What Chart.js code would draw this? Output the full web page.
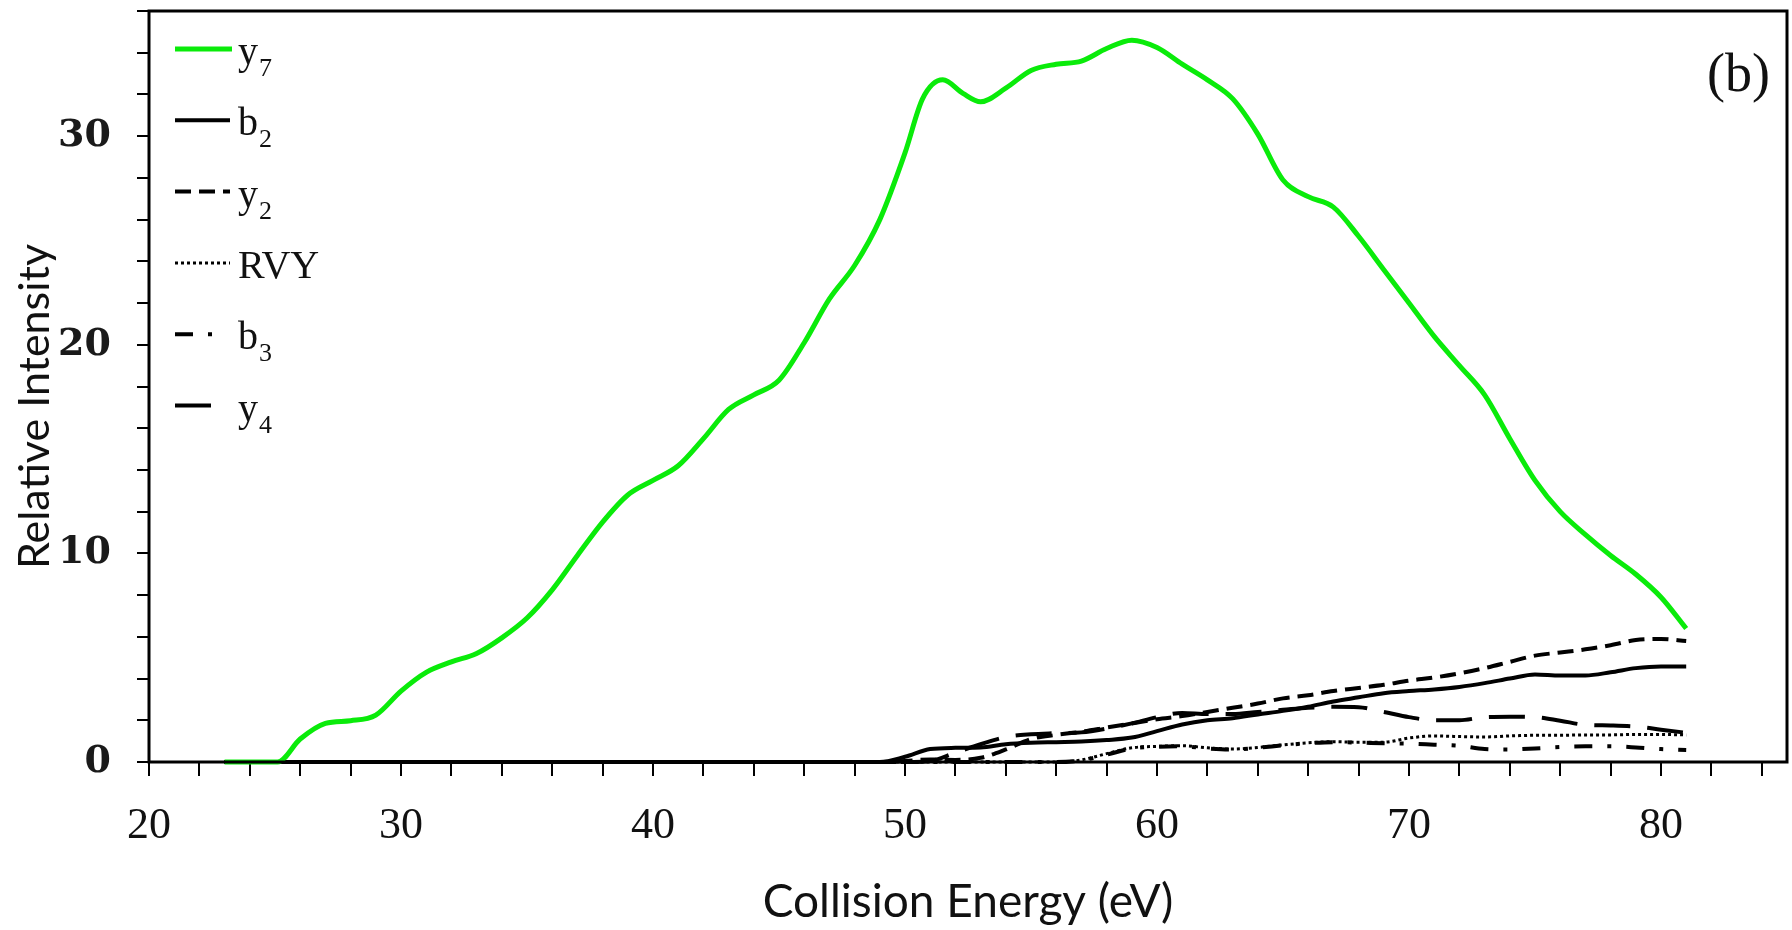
<!DOCTYPE html>
<html lang="en">
<head>
    <meta charset="UTF-8"/>
    <script src="https://cdn.jsdelivr.net/npm/chart.js@4.4.1/dist/chart.umd.min.js"></script>
    <title>collision energy</title>
    <style>
        body { margin: 0; background: #fff; }
        canvas { display: block; }
    </style>
</head>
<body>
<canvas id="ceChart" width="1792" height="930"></canvas>
<script>
    // y7 curve (finer sampling around the peak)
    const y7Energy = [23, 25.1, 26, 27, 28, 29, 30, 31, 32, 33, 34, 35, 36, 37, 38, 39, 40, 41, 42, 43, 44, 45, 46, 47, 48, 49, 50,
        50.7, 51.5, 52.3, 53, 54, 55, 56, 57, 58, 59, 60, 61, 62, 63, 64, 65, 66, 67, 68, 69, 70, 71, 72, 73, 74, 75, 76, 77, 78, 79, 80, 81];
    const y7 = [0, 0, 1.1, 1.85, 1.98, 2.25, 3.4, 4.3, 4.8, 5.2, 5.95, 6.9, 8.25, 9.9, 11.5, 12.8, 13.5, 14.2, 15.5, 16.9, 17.6, 18.3, 20.1, 22.2, 23.8, 26.0, 29.2,
        31.8, 32.7, 32.05, 31.65, 32.3, 33.15, 33.45, 33.6, 34.2, 34.6, 34.25, 33.45, 32.7, 31.8, 30.1, 27.9, 27.1, 26.6, 25.2, 23.6, 22.0, 20.4, 19.0, 17.6, 15.5, 13.5, 12.0, 10.9, 9.9, 9.0, 7.9, 6.4];

    // the small fragment ions
    const ionEnergy = [23, 47, 48, 49, 50, 51, 52, 53, 54, 55, 56, 57, 58, 59, 60, 61, 62, 63, 64, 65, 66, 67, 68, 69, 70, 71, 72, 73, 74, 75, 76, 77, 78, 79, 80, 81];
    const b2 = [0, 0, 0, 0, 0.25, 0.62, 0.68, 0.7, 0.85, 0.92, 0.95, 0.98, 1.05, 1.17, 1.48, 1.8, 2.0, 2.1, 2.28, 2.45, 2.65, 2.9, 3.1, 3.3, 3.4, 3.48, 3.6, 3.78, 4.0, 4.2, 4.15, 4.15, 4.3, 4.5, 4.58, 4.58];
    const y2 = [0, 0, 0, 0, 0.05, 0.12, 0.1, 0.2, 0.6, 1.1, 1.3, 1.45, 1.65, 1.85, 2.05, 2.2, 2.4, 2.6, 2.8, 3.05, 3.2, 3.4, 3.55, 3.7, 3.9, 4.05, 4.25, 4.5, 4.8, 5.1, 5.25, 5.4, 5.6, 5.85, 5.9, 5.8];
    const rvy = [0, 0, 0, 0, 0, 0, 0, 0, 0, 0, 0, 0.1, 0.4, 0.68, 0.75, 0.78, 0.68, 0.62, 0.7, 0.82, 0.92, 0.97, 0.95, 0.95, 1.15, 1.25, 1.22, 1.2, 1.25, 1.28, 1.28, 1.3, 1.3, 1.32, 1.32, 1.3];
    const b3 = [0, 0, 0, 0, 0, 0, 0, 0, 0, 0, 0, 0.08, 0.35, 0.65, 0.73, 0.75, 0.65, 0.6, 0.68, 0.8, 0.9, 0.95, 0.93, 0.9, 0.88, 0.83, 0.78, 0.62, 0.6, 0.65, 0.72, 0.75, 0.75, 0.7, 0.62, 0.58];
    const y4 = [0, 0, 0, 0, 0, 0.05, 0.45, 0.85, 1.2, 1.33, 1.38, 1.42, 1.6, 1.85, 2.15, 2.35, 2.3, 2.3, 2.4, 2.5, 2.6, 2.65, 2.63, 2.4, 2.15, 2.0, 2.0, 2.15, 2.17, 2.15, 1.98, 1.78, 1.75, 1.7, 1.55, 1.4];

    const seriesNames = ['y7', 'b2', 'y2', 'RVY', 'b3', 'y4'];
    const xTickLabels = [20, 30, 40, 50, 60, 70, 80];
    const yTickLabels = [0, 10, 20, 30];
    const panelTag = '(b)';
    const yTitle = 'Relative Intensity';

    function pts(xs, ys) {
        return xs.map((x, i) => ({x: x, y: ys[i]}));
    }

    function line(name, xs, ys, color, width, dash, legendLen) {
        return {
            label: name,
            data: pts(xs, ys),
            borderColor: color,
            borderWidth: width,
            borderDash: dash,
            legendLen: legendLen,
            pointRadius: 0,
            cubicInterpolationMode: 'monotone',
            clip: false
        };
    }

    // frame, legend with subscripts, y title and the panel tag
    const decor = {
        id: 'decor',
        afterDatasetsDraw(chart) {
            const {ctx, chartArea: a} = chart;
            ctx.save();
            ctx.lineWidth = 3;
            ctx.strokeStyle = '#000';
            ctx.setLineDash([]);
            ctx.strokeRect(a.left, a.top, a.right - a.left, a.bottom - a.top);

            chart.data.datasets.forEach((ds, i) => {
                const ly = a.top + 38 + i * 71.3;
                const lx = a.left + 26;
                ctx.beginPath();
                ctx.strokeStyle = ds.borderColor;
                ctx.lineWidth = ds.borderWidth;
                ctx.setLineDash(ds.borderDash);
                ctx.moveTo(lx, ly);
                ctx.lineTo(lx + ds.legendLen, ly);
                ctx.stroke();

                const m = ds.label.match(/^(\D+)(\d*)$/);
                ctx.fillStyle = '#111';
                ctx.textAlign = 'left';
                ctx.textBaseline = 'alphabetic';
                ctx.font = '40px "Liberation Serif"';
                const tx = a.left + 89;
                ctx.fillText(m[1], tx, ly + 15);
                if (m[2]) {
                    const w = ctx.measureText(m[1]).width;
                    ctx.font = '26px "Liberation Serif"';
                    ctx.fillText(m[2], tx + w + 1, ly + 27);
                }
            });

            ctx.font = '54px "Liberation Serif"';
            ctx.textAlign = 'right';
            ctx.fillStyle = '#111';
            ctx.fillText(panelTag, a.right - 17, 91);

            // y title sits a bit below the middle of the plot in the original
            ctx.translate(35, (a.top + a.bottom) / 2 + 20);
            ctx.rotate(-Math.PI / 2);
            ctx.font = '43px Lato';
            ctx.textAlign = 'center';
            ctx.textBaseline = 'middle';
            ctx.fillText(yTitle, 0, 0);
            ctx.restore();
        }
    };

    const ceChart = new Chart(document.getElementById('ceChart'), {
        type: 'line',
        data: {
            datasets: [
                line(seriesNames[0], y7Energy, y7, 'rgb(10, 235, 10)', 5, [], 57),
                line(seriesNames[1], ionEnergy, b2, '#000', 4, [], 55),
                line(seriesNames[2], ionEnergy, y2, '#000', 4, [16, 8], 55),
                line(seriesNames[3], ionEnergy, rvy, '#000', 3, [3, 3], 55),
                line(seriesNames[4], ionEnergy, b3, '#000', 4, [18, 15, 4, 15], 38),
                line(seriesNames[5], ionEnergy, y4, '#000', 4, [36, 17], 38)
            ]
        },
        options: {
            responsive: false,
            animation: false,
            layout: {padding: {top: 11, right: 5, left: 0, bottom: 0}},
            plugins: {legend: {display: false}, tooltip: {enabled: false}},
            scales: {
                x: {
                    type: 'linear',
                    min: 20,
                    max: 85,
                    afterFit: (s) => {
                        s.height = 168;
                        s.paddingLeft = 0;
                        s.paddingRight = 0;
                    },
                    border: {display: false},
                    grid: {drawOnChartArea: false, drawTicks: true, tickLength: 14, color: '#000', lineWidth: 2},
                    ticks: {
                        stepSize: 2,
                        includeBounds: false,
                        autoSkip: false,
                        maxRotation: 0,
                        padding: 24,
                        color: '#111',
                        font: {family: 'Liberation Serif', size: 44},
                        callback: (v) => xTickLabels.includes(v) ? String(v) : ''
                    },
                    title: {
                        display: true,
                        text: 'Collision Energy (eV)',
                        color: '#111',
                        font: {family: 'Lato', size: 46},
                        padding: {top: 0, bottom: 0}
                    }
                },
                y: {
                    min: 0,
                    max: 36,
                    afterFit: (s) => {
                        s.width = 149;
                        s.paddingTop = 0;
                        s.paddingBottom = 0;
                    },
                    border: {display: false},
                    grid: {drawOnChartArea: false, drawTicks: true, tickLength: 12, color: '#000', lineWidth: 2},
                    ticks: {
                        stepSize: 2,
                        autoSkip: false,
                        padding: 26,
                        color: '#1a1a1a',
                        font: {family: 'DejaVu Serif', size: 38, weight: 'bold'},
                        callback: (v) => yTickLabels.includes(v) ? String(v) : ''
                    }
                }
            }
        },
        plugins: [decor]
    });
</script>
</body>
</html>
